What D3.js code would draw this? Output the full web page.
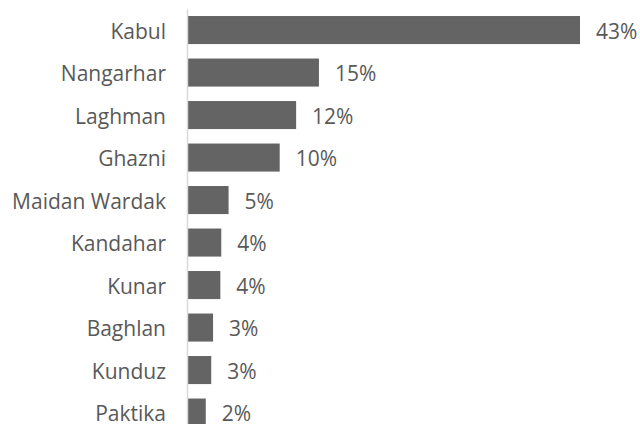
<!DOCTYPE html>
<html>
<head>
<meta charset="utf-8">
<script src="https://cdn.jsdelivr.net/npm/d3@7"></script>
<style>
  body { margin: 0; background: #fff; }
  text { font-family: "Open Sans", sans-serif; fill: #595959; }
</style>
</head>
<body>
<div id="chart"></div>
<script>
// provinces, top to bottom
const provinces = ["Kabul", "Nangarhar", "Laghman", "Ghazni", "Maidan Wardak",
                   "Kandahar", "Kunar", "Baghlan", "Kunduz", "Paktika"];
// share in percent (bar lengths)
const shares = [43, 14.4, 11.9, 10.1, 4.5, 3.7, 3.6, 2.8, 2.6, 2.0];
// printed labels
const shareLabels = ["43%", "15%", "12%", "10%", "5%", "4%", "4%", "3%", "3%", "2%"];

const data = provinces.map((p, i) => ({name: p, value: shares[i], label: shareLabels[i]}));

const width = 640, height = 424;

const svg = d3.select("#chart").append("svg")
    .attr("width", width)
    .attr("height", height);

const x = d3.scaleLinear()
    .domain([0, 43])
    .range([187.5, 580]);

const y = d3.scaleBand()
    .domain(provinces)
    .range([8.8, 433.8])
    .paddingInner(0.34)
    .paddingOuter(0.17);

// bars
svg.selectAll(".bar")
    .data(data)
    .enter()
    .append("rect")
    .attr("class", "bar")
    .attr("x", x(0))
    .attr("y", d => y(d.name))
    .attr("width", d => x(d.value) - x(0))
    .attr("height", y.bandwidth())
    .attr("fill", "#646464");

// Y axis
const yAxis = svg.append("g")
    .attr("transform", `translate(${x(0) - 0.5},0)`)
    .call(d3.axisLeft(y).tickSize(0).tickPadding(21));

yAxis.select(".domain")
    .attr("stroke", "#d9d9d9")
    .attr("stroke-width", 1.5);

yAxis.selectAll("text")
    .attr("dy", "0.42em")
    .style("font-family", "'Open Sans', sans-serif")
    .style("font-size", "21px")
    .attr("fill", "#595959");

// value labels
svg.selectAll(".val")
    .data(data)
    .enter()
    .append("text")
    .attr("class", "val")
    .attr("x", d => x(d.value) + 16)
    .attr("y", d => y(d.name) + y.bandwidth() / 2)
    .attr("dy", "0.42em")
    .style("font-size", "21px")
    .text(d => d.label);
</script>
</body>
</html>
